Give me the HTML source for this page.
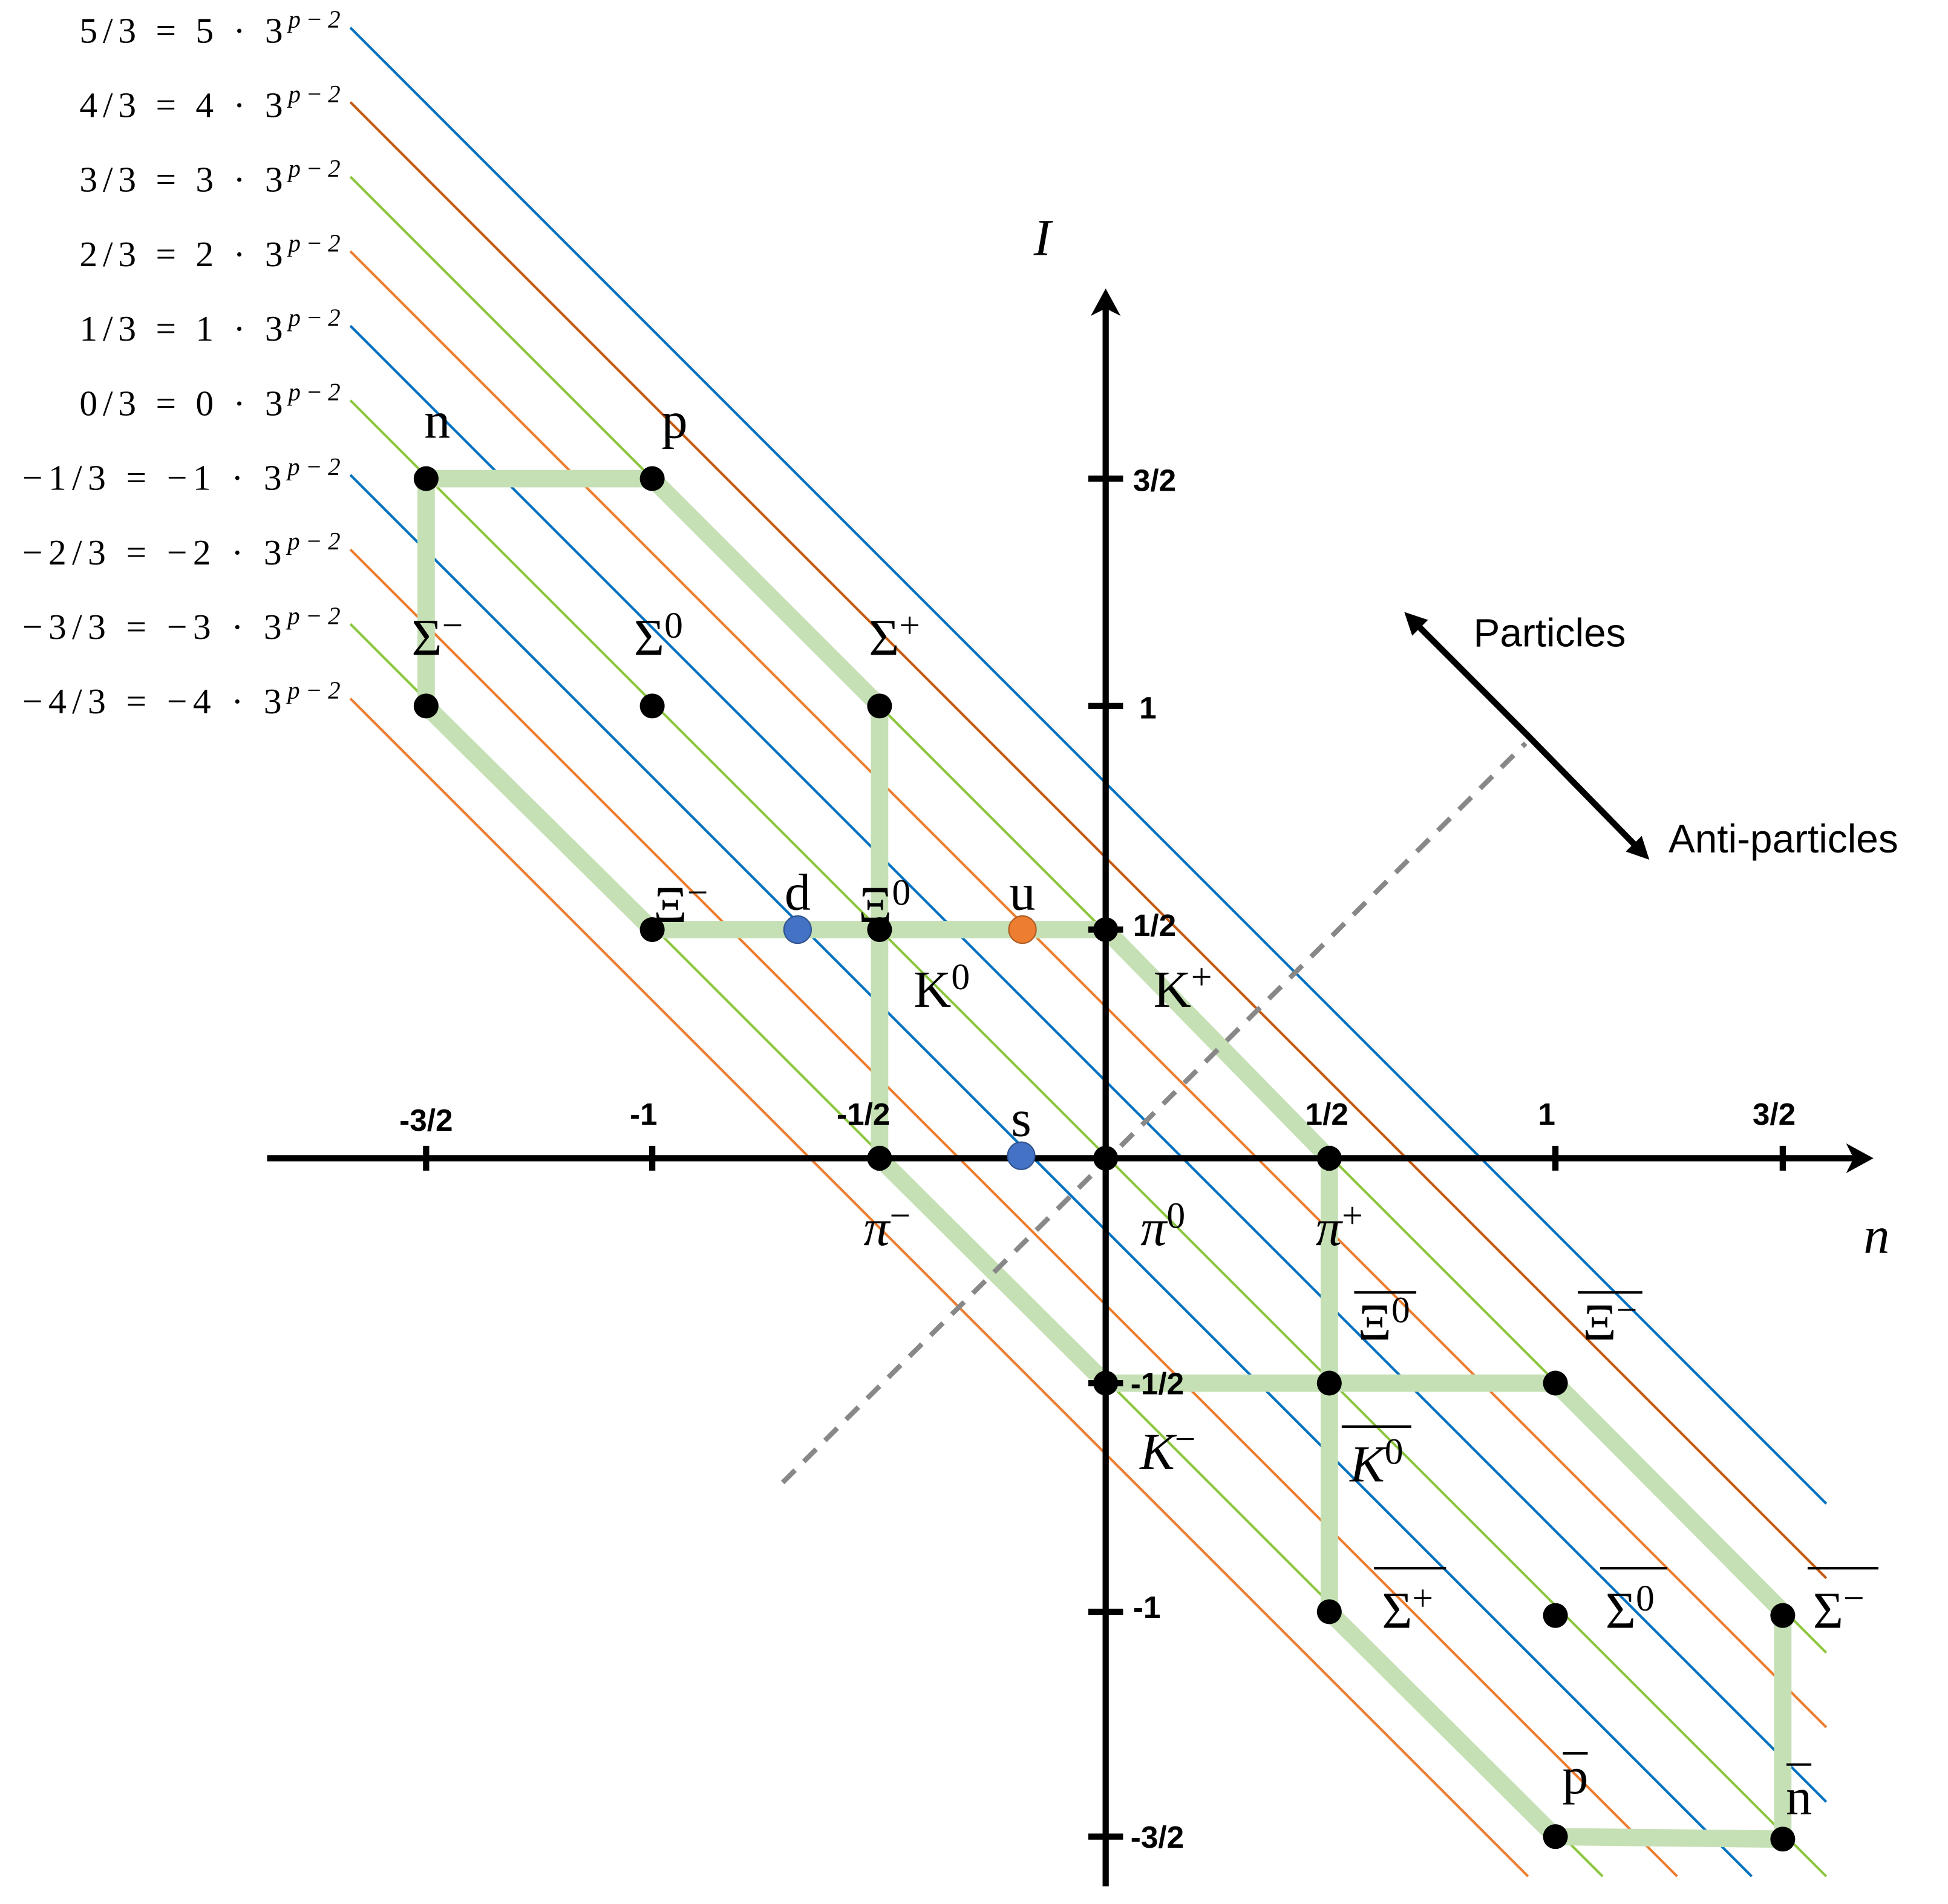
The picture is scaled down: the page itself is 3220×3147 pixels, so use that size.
<!DOCTYPE html>
<html><head><meta charset="utf-8"><style>html,body{margin:0;padding:0;background:#fff}svg{display:block}</style></head><body>
<svg width="3220" height="3147" viewBox="0 0 1568 1532" xmlns="http://www.w3.org/2000/svg">
<defs>
<marker id="ah" markerWidth="26" markerHeight="24" refX="14" refY="12" orient="auto" markerUnits="userSpaceOnUse"><path d="M0,0 L22,12 L0,24 L6,12 Z"/></marker>
<marker id="ah2" markerWidth="20" markerHeight="18" refX="10" refY="9" orient="auto" markerUnits="userSpaceOnUse"><path d="M0,0 L18,9 L0,18 Z"/></marker>
</defs>
<rect width="1568" height="1532" fill="#fff"/>
<g stroke-width="2" fill="none">
<line x1="282" y1="22" x2="1470" y2="1210" stroke="#0070C0"/>
<line x1="282" y1="82" x2="1470" y2="1270" stroke="#C55A11"/>
<line x1="282" y1="142" x2="1470" y2="1330" stroke="#8CC63F"/>
<line x1="282" y1="202" x2="1470" y2="1390" stroke="#ED7D31"/>
<line x1="282" y1="262" x2="1470" y2="1450" stroke="#0070C0"/>
<line x1="282" y1="322" x2="1470" y2="1510" stroke="#8CC63F"/>
<line x1="282" y1="382" x2="1410" y2="1510" stroke="#0070C0"/>
<line x1="282" y1="442" x2="1350" y2="1510" stroke="#ED7D31"/>
<line x1="282" y1="502" x2="1290" y2="1510" stroke="#8CC63F"/>
<line x1="282" y1="562" x2="1230" y2="1510" stroke="#ED7D31"/>
</g>
<g font-family="Liberation Serif, serif" font-size="29" fill="#000" lengthAdjust="spacing">
<text x="64" y="34" textLength="210">5/3 = 5 · 3<tspan font-size="20" font-style="italic" dy="-12">p−2</tspan></text>
<text x="64" y="94" textLength="210">4/3 = 4 · 3<tspan font-size="20" font-style="italic" dy="-12">p−2</tspan></text>
<text x="64" y="154" textLength="210">3/3 = 3 · 3<tspan font-size="20" font-style="italic" dy="-12">p−2</tspan></text>
<text x="64" y="214" textLength="210">2/3 = 2 · 3<tspan font-size="20" font-style="italic" dy="-12">p−2</tspan></text>
<text x="64" y="274" textLength="210">1/3 = 1 · 3<tspan font-size="20" font-style="italic" dy="-12">p−2</tspan></text>
<text x="64" y="334" textLength="210">0/3 = 0 · 3<tspan font-size="20" font-style="italic" dy="-12">p−2</tspan></text>
<text x="18" y="394" textLength="256">−1/3 = −1 · 3<tspan font-size="20" font-style="italic" dy="-12">p−2</tspan></text>
<text x="18" y="454" textLength="256">−2/3 = −2 · 3<tspan font-size="20" font-style="italic" dy="-12">p−2</tspan></text>
<text x="18" y="514" textLength="256">−3/3 = −3 · 3<tspan font-size="20" font-style="italic" dy="-12">p−2</tspan></text>
<text x="18" y="574" textLength="256">−4/3 = −4 · 3<tspan font-size="20" font-style="italic" dy="-12">p−2</tspan></text>
</g>
<path d="M343,385 L525,385 L708,568 L708,932 L890,1113 L1252,1113 L1435,1297 L1435,1480 L1252,1478 L1070,1297 L1070,932 L890,748 L525,748 L343,568 Z" fill="none" stroke="#C5E0B4" stroke-width="14" stroke-linejoin="round"/>
<line x1="630" y1="1193" x2="1228" y2="598" stroke="#888" stroke-width="4" stroke-dasharray="14,10"/>
<g stroke="#000" stroke-width="5">
<line x1="215" y1="932" x2="1500" y2="932" marker-end="url(#ah)"/>
<line x1="890" y1="1518" x2="890" y2="240" marker-end="url(#ah)"/>
<line x1="1228" y1="590" x2="1136" y2="498" marker-end="url(#ah2)"/>
<line x1="1228" y1="590" x2="1322" y2="686" marker-end="url(#ah2)"/>
<line x1="343" y1="922" x2="343" y2="942"/><line x1="525" y1="922" x2="525" y2="942"/><line x1="708" y1="922" x2="708" y2="942"/>
<line x1="1070" y1="922" x2="1070" y2="942"/><line x1="1252" y1="922" x2="1252" y2="942"/><line x1="1435" y1="922" x2="1435" y2="942"/>
<line x1="876" y1="385" x2="904" y2="385"/><line x1="876" y1="568" x2="904" y2="568"/><line x1="876" y1="748" x2="904" y2="748"/>
<line x1="876" y1="1113" x2="904" y2="1113"/><line x1="876" y1="1297" x2="904" y2="1297"/><line x1="876" y1="1478" x2="904" y2="1478"/>
</g>
<g font-family="Liberation Sans, sans-serif" font-weight="bold" font-size="25" fill="#000">
<text x="343" y="910" text-anchor="middle">-3/2</text><text x="518" y="905" text-anchor="middle">-1</text><text x="695" y="905" text-anchor="middle">-1/2</text>
<text x="1068" y="905" text-anchor="middle">1/2</text><text x="1245" y="905" text-anchor="middle">1</text><text x="1428" y="905" text-anchor="middle">3/2</text>
<text x="912" y="395">3/2</text><text x="917" y="578">1</text><text x="912" y="753">1/2</text><text x="910" y="1122">-1/2</text><text x="912" y="1302">-1</text><text x="910" y="1487">-3/2</text>
</g>
<g font-family="Liberation Sans, sans-serif" font-size="32" fill="#000">
<text x="1186" y="520">Particles</text><text x="1343" y="686">Anti-particles</text>
</g>
<g font-family="Liberation Serif, serif" font-style="italic" font-size="42" fill="#000">
<text x="832" y="205">I</text><text x="1500" y="1008">n</text>
</g>
<g font-family="Liberation Serif, serif" font-size="42" fill="#000" text-anchor="middle">
<text x="352" y="352">n</text><text x="543" y="352">p</text>
<text x="352" y="527">Σ<tspan font-size="30" dy="-14">−</tspan></text>
<text x="530" y="527">Σ<tspan font-size="30" dy="-14">0</tspan></text>
<text x="720" y="527">Σ<tspan font-size="30" dy="-14">+</tspan></text>
<text x="548" y="742">Ξ<tspan font-size="30" dy="-14">−</tspan></text>
<text x="712" y="742">Ξ<tspan font-size="30" dy="-14">0</tspan></text>
<text x="642" y="732">d</text><text x="823" y="732">u</text><text x="822" y="914">s</text>
<text x="758" y="810">K<tspan font-size="30" dy="-14">0</tspan></text>
<text x="952" y="810">K<tspan font-size="30" dy="-14">+</tspan></text>
<text x="714" y="1002" font-style="italic">π<tspan font-size="30" dy="-14" font-style="normal">−</tspan></text>
<text x="936" y="1002" font-style="italic">π<tspan font-size="30" dy="-14" font-style="normal">0</tspan></text>
<text x="1078" y="1002" font-style="italic">π<tspan font-size="30" dy="-14" font-style="normal">+</tspan></text>
<text x="1114" y="1078">Ξ<tspan font-size="30" dy="-14">0</tspan></text>
<text x="1296" y="1078">Ξ<tspan font-size="30" dy="-14">−</tspan></text>
<text x="940" y="1182" font-style="italic">K<tspan font-size="30" dy="-14" font-style="normal">−</tspan></text>
<text x="1108" y="1192" font-style="italic">K<tspan font-size="30" dy="-14" font-style="normal">0</tspan></text>
<text x="1133" y="1310">Σ<tspan font-size="30" dy="-14">+</tspan></text>
<text x="1312" y="1310">Σ<tspan font-size="30" dy="-14">0</tspan></text>
<text x="1480" y="1310">Σ<tspan font-size="30" dy="-14">−</tspan></text>
<text x="1268" y="1443">p</text><text x="1448" y="1460">n</text>
</g>
<g stroke="#000" stroke-width="2">
<line x1="1090" y1="1040" x2="1140" y2="1040"/><line x1="1270" y1="1040" x2="1322" y2="1040"/>
<line x1="1080" y1="1148" x2="1136" y2="1148"/><line x1="1106" y1="1262" x2="1164" y2="1262"/>
<line x1="1288" y1="1262" x2="1342" y2="1262"/><line x1="1455" y1="1262" x2="1512" y2="1262"/>
<line x1="1258" y1="1411" x2="1278" y2="1411"/><line x1="1438" y1="1420" x2="1458" y2="1420"/>
</g>
<g fill="#000">
<circle cx="343" cy="385" r="10"/><circle cx="525" cy="385" r="10"/><circle cx="343" cy="568" r="10"/><circle cx="525" cy="568" r="10"/><circle cx="708" cy="568" r="10"/>
<circle cx="525" cy="748" r="10"/><circle cx="708" cy="748" r="10"/><circle cx="890" cy="748" r="10"/>
<circle cx="708" cy="932" r="10"/><circle cx="890" cy="932" r="10"/><circle cx="1070" cy="932" r="10"/>
<circle cx="890" cy="1113" r="10"/><circle cx="1070" cy="1113" r="10"/><circle cx="1252" cy="1113" r="10"/>
<circle cx="1070" cy="1297" r="10"/><circle cx="1252" cy="1300" r="10"/><circle cx="1435" cy="1300" r="10"/>
<circle cx="1252" cy="1478" r="10"/><circle cx="1435" cy="1480" r="10"/>
</g>
<circle cx="642" cy="748" r="11" fill="#4472C4" stroke="#2F528F" stroke-width="1"/>
<circle cx="823" cy="748" r="11" fill="#ED7D31" stroke="#AE5A21" stroke-width="1"/>
<circle cx="822" cy="930" r="11" fill="#4472C4" stroke="#2F528F" stroke-width="1"/>
</svg>
</body></html>
